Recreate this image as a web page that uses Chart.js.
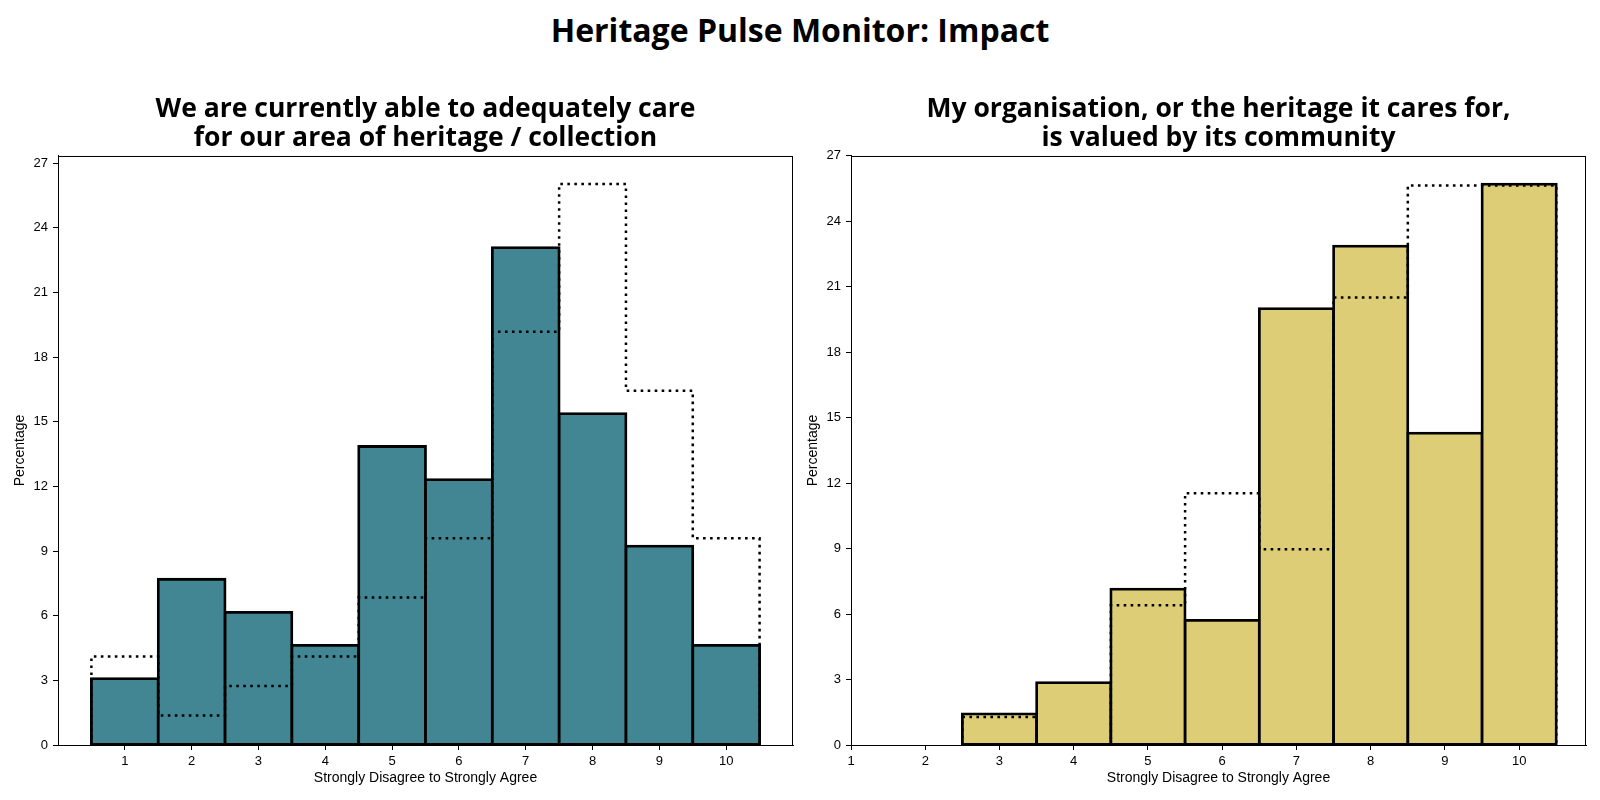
<!DOCTYPE html>
<html>
<head>
<meta charset="utf-8">
<script src="https://cdn.jsdelivr.net/npm/chart.js@4"></script>
<style>
    body { margin: 0; background: #fff; }
    #page { position: relative; width: 1600px; height: 800px; }
    #suptitle {
        position: absolute; left: 0; top: 11px; width: 1600px;
        text-align: center; font: 700 32px "Open Sans", sans-serif; line-height: 38px; color: #000;
    }
    .box { position: absolute; top: 0; width: 800px; height: 800px; }
</style>
</head>
<body>
<div id="page">
    <div id="suptitle">Heritage Pulse Monitor: Impact</div>
    <div class="box" style="left:0"><canvas id="careChart" width="800" height="800"></canvas></div>
    <div class="box" style="left:800px"><canvas id="valuedChart" width="800" height="800"></canvas></div>
</div>
<script>
// scores on the x axis
var scores = [1, 2, 3, 4, 5, 6, 7, 8, 9, 10];

// "We are currently able to adequately care..." (% of respondents)
var careNow  = [3.08, 7.69, 6.15, 4.62, 13.85, 12.31, 23.08, 15.38, 9.23, 4.62];
var carePrev = [4.11, 1.37, 2.74, 4.11, 6.85, 9.59, 19.18, 26.03, 16.44, 9.59];

// "My organisation ... is valued by its community" (% of respondents)
var valuedNow  = [0, 0, 1.43, 2.86, 7.14, 5.71, 20.00, 22.86, 14.29, 25.71];
var valuedPrev = [0, 0, 1.28, 0, 6.41, 11.54, 8.97, 20.51, 25.64, 25.64];

var yTicks = [0, 3, 6, 9, 12, 15, 18, 21, 24, 27];

var TICK_FONT = { family: '"Liberation Sans", Arial, sans-serif', size: 13 };
var LABEL_FONT = { family: '"Liberation Sans", Arial, sans-serif', size: 14 };

// draws top + right spines like matplotlib
var frame = {
    id: 'frame',
    afterDraw: function (chart) {
        var a = chart.chartArea, ctx = chart.ctx;
        ctx.save();
        ctx.strokeStyle = '#000';
        ctx.lineWidth = 1;
        ctx.strokeRect(a.left + 0.5, a.top + 0.5, a.right - a.left - 1, a.bottom - a.top);
        ctx.restore();
    }
};

function barPoints(values) {
    return scores.map(function (s, i) {
        return { x: s, y: values[i] > 0 ? values[i] : null };
    });
}

// outline of the previous wave, histogram "step" style
function stepPoints(values) {
    var first = 0, last = values.length - 1;
    while (first < last && values[first] === 0) first++;
    while (last > first && values[last] === 0) last--;
    var pts = [{ x: scores[first] - 0.5, y: 0 }];
    for (var i = first; i <= last; i++) {
        pts.push({ x: scores[i] - 0.5, y: values[i] });
        pts.push({ x: scores[i] + 0.5, y: values[i] });
    }
    pts.push({ x: scores[last] + 0.5, y: 0 });
    return pts;
}

function plotHist(id, title, now, prev, colour, cfg) {
    var yMax = Math.max(Math.max.apply(null, now), Math.max.apply(null, prev)) * 1.05;
    var ctx = document.getElementById(id).getContext('2d');
    return new Chart(ctx, {
        type: 'bar',
        data: {
            datasets: [{
                type: 'line',
                data: stepPoints(prev),
                borderColor: '#000',
                borderWidth: 2.5,
                borderDash: [2.6, 4.4],
                borderCapStyle: 'butt',
                pointRadius: 0,
                fill: false,
                tension: 0,
                order: 0
            }, {
                data: barPoints(now),
                backgroundColor: colour,
                borderColor: '#000',
                borderWidth: 2.8,
                borderSkipped: false,
                inflateAmount: 1.4,
                barPercentage: 1,
                categoryPercentage: 1,
                order: 1
            }]
        },
        options: {
            responsive: false,
            animation: false,
            devicePixelRatio: 1,
            layout: { padding: { top: 94.5, right: cfg.padRight, bottom: 0, left: 0 } },
            plugins: {
                legend: { display: false },
                tooltip: { enabled: false },
                title: {
                    display: true,
                    text: title,
                    fullSize: false,
                    color: '#000',
                    font: { family: '"Open Sans", sans-serif', size: 26.5, weight: 'bold', lineHeight: 1.094 },
                    padding: { top: 0, bottom: 3.5 }
                }
            },
            scales: {
                x: {
                    type: 'linear',
                    offset: false,
                    min: cfg.xMin,
                    max: cfg.xMax,
                    afterBuildTicks: function (axis) {
                        axis.ticks = scores.map(function (s) { return { value: s }; });
                    },
                    afterFit: function (axis) { axis.height = 55; },
                    ticks: { color: '#000', font: TICK_FONT, padding: 4, maxRotation: 0, autoSkip: false },
                    grid: { offset: false, drawOnChartArea: false, drawTicks: true, tickLength: 5, tickColor: '#000', color: '#000' },
                    border: { color: '#000', width: 1 },
                    title: {
                        display: true,
                        text: 'Strongly Disagree to Strongly Agree',
                        color: '#000',
                        font: LABEL_FONT,
                        padding: { top: 0, bottom: 13.6 }
                    }
                },
                y: {
                    min: 0,
                    max: yMax,
                    afterBuildTicks: function (axis) {
                        axis.ticks = yTicks.map(function (v) { return { value: v }; });
                    },
                    afterFit: function (axis) { axis.width = cfg.yWidth; },
                    ticks: { color: '#000', font: TICK_FONT, padding: 5 },
                    grid: { drawOnChartArea: false, drawTicks: true, tickLength: 5, tickColor: '#000', color: '#000' },
                    border: { color: '#000', width: 1 },
                    title: {
                        display: true,
                        text: 'Percentage',
                        color: '#000',
                        font: LABEL_FONT,
                        padding: { top: cfg.yTitlePad, bottom: 0 }
                    }
                }
            }
        },
        plugins: [frame]
    });
}

plotHist('careChart',
    ['We are currently able to adequately care', 'for our area of heritage / collection'],
    careNow, carePrev, '#428693',
    { xMin: 0, xMax: 11, yWidth: 58, padRight: 7, yTitlePad: 12.1 });

plotHist('valuedChart',
    ['My organisation, or the heritage it cares for,', 'is valued by its community'],
    valuedNow, valuedPrev, '#DDCD77',
    { xMin: 1, xMax: 10.9, yWidth: 51, padRight: 14, yTitlePad: 4.4 });
</script>
</body>
</html>
